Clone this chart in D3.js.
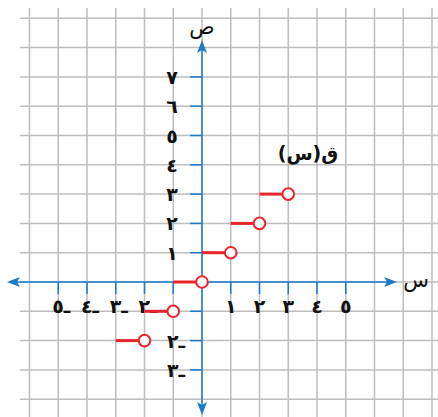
<!DOCTYPE html>
<html>
<head>
<meta charset="utf-8">
<script src="https://cdn.jsdelivr.net/npm/d3@7/dist/d3.min.js"></script>
<style>
	body { margin: 0; background: #fff; }
	text { font-family: "DejaVu Sans", sans-serif; fill: #111; }
</style>
</head>
<body>
<div id="chart"></div>
<script>
// grid range in units
var gridX = d3.range(-6, 9);
var gridY = d3.range(-4, 10);

// tick positions and labels (Arabic-Indic digits)
var xTicks = [-5, -4, -3, -2, -1, 1, 2, 3, 4, 5];
var xLabelVals = [-5, -4, -3, -2, 1, 2, 3, 4, 5];
var yTicks = [-3, -2, -1, 1, 2, 3, 4, 5, 6, 7];
var yLabelVals = [-3, -2, 1, 2, 3, 4, 5, 6, 7];

// step function segments: [start, end) at value, open circle at end
var stepStart = [-3, -2, -1, 0, 1, 2];
var stepEnd = [-2, -1, 0, 1, 2, 3];
var stepValue = [-2, -1, 0, 1, 2, 3];

var digits = "٠١٢٣٤٥٦٧٨٩";
function arab(n) {
	var s = String(Math.abs(n)).split("").map(function (c) { return digits[+c]; }).join("");
	// tatweel first: the run is shown right-to-left, so the dash lands on the right
	return n < 0 ? "ـ" + s : s;
}

var width = 438, height = 417;
var blue = "#1b7bc9", red = "#e8252b", grey = "#bdbdbd";

var x = d3.scaleLinear().domain([-6, 8]).range([29.5, 432]);
var y = d3.scaleLinear().domain([-4, 9]).range([399.2, 18.3]);

var svg = d3.select("#chart").append("svg")
	.attr("width", width)
	.attr("height", height);

// grid
svg.append("g").selectAll("line")
	.data(gridX)
	.enter().append("line")
	.attr("x1", function (d) { return x(d); })
	.attr("x2", function (d) { return x(d); })
	.attr("y1", 8)
	.attr("y2", height)
	.attr("stroke", grey)
	.attr("stroke-width", 1.5);
svg.append("g").selectAll("line")
	.data(gridY)
	.enter().append("line")
	.attr("x1", 20)
	.attr("x2", width)
	.attr("y1", function (d) { return y(d); })
	.attr("y2", function (d) { return y(d); })
	.attr("stroke", grey)
	.attr("stroke-width", 1.5);

// axes
var axes = svg.append("g");
axes.append("line")
	.attr("x1", 14).attr("x2", 390)
	.attr("y1", y(0)).attr("y2", y(0))
	.attr("stroke", blue).attr("stroke-width", 1.5);
axes.append("line")
	.attr("x1", x(0)).attr("x2", x(0))
	.attr("y1", 48).attr("y2", 408)
	.attr("stroke", blue).attr("stroke-width", 1.5);

function arrow(tx, ty, dir) {
	// dir: "l","r","u","d"
	var p;
	if (dir === "r") p = [[tx, ty], [tx - 13, ty - 5], [tx - 10, ty], [tx - 13, ty + 5]];
	if (dir === "l") p = [[tx, ty], [tx + 13, ty - 5], [tx + 10, ty], [tx + 13, ty + 5]];
	if (dir === "u") p = [[tx, ty], [tx - 5, ty + 13], [tx, ty + 10], [tx + 5, ty + 13]];
	if (dir === "d") p = [[tx, ty], [tx - 5, ty - 13], [tx, ty - 10], [tx + 5, ty - 13]];
	axes.append("path")
		.attr("d", d3.line()(p) + "Z")
		.attr("fill", blue);
}
arrow(397, y(0), "r");
arrow(7, y(0), "l");
arrow(x(0), 40, "u");
arrow(x(0), 415, "d");

// ticks
axes.selectAll(".xt")
	.data(xTicks)
	.enter().append("line")
	.attr("x1", function (d) { return x(d); })
	.attr("x2", function (d) { return x(d); })
	.attr("y1", y(0))
	.attr("y2", y(0) + 12)
	.attr("stroke", blue).attr("stroke-width", 1.5);
axes.selectAll(".yt")
	.data(yTicks)
	.enter().append("line")
	.attr("x1", x(0) - 12)
	.attr("x2", x(0))
	.attr("y1", function (d) { return y(d); })
	.attr("y2", function (d) { return y(d); })
	.attr("stroke", blue).attr("stroke-width", 1.5);

// tick labels
svg.append("g").selectAll("text")
	.data(xLabelVals)
	.enter().append("text")
	.attr("x", function (d) { return d < 0 ? x(d) + 3 : x(d); })
	.attr("y", y(0) + 31)
	.attr("text-anchor", "middle")
	.attr("font-size", 19)
	.attr("font-weight", "bold")
	.text(arab);
svg.append("g").selectAll("text")
	.data(yLabelVals)
	.enter().append("text")
	.attr("x", function (d) { return d < 0 ? x(0) - 26 : x(0) - 30; })
	.attr("y", function (d) { return y(d) + 7; })
	.attr("text-anchor", "middle")
	.attr("font-size", 19)
	.attr("font-weight", "bold")
	.text(arab);

// axis names
svg.append("text")
	.attr("x", 416).attr("y", y(0) + 5)
	.attr("text-anchor", "middle")
	.attr("font-size", 21)
	.text("س");
svg.append("text")
	.attr("x", x(0)).attr("y", 34)
	.attr("text-anchor", "middle")
	.attr("font-size", 21)
	.text("ص");

// function label
svg.append("text")
	.attr("x", 308).attr("y", 160)
	.attr("text-anchor", "middle")
	.attr("font-size", 19)
	.attr("font-weight", "bold")
	.text("ق(س)");

// step segments
var steps = svg.append("g");
steps.selectAll("line")
	.data(stepStart)
	.enter().append("line")
	.attr("x1", function (d) { return x(d); })
	.attr("x2", function (d, i) { return x(stepEnd[i]); })
	.attr("y1", function (d, i) { return y(stepValue[i]); })
	.attr("y2", function (d, i) { return y(stepValue[i]); })
	.attr("stroke", red)
	.attr("stroke-width", 3);
steps.selectAll("circle")
	.data(stepEnd)
	.enter().append("circle")
	.attr("cx", function (d) { return x(d); })
	.attr("cy", function (d, i) { return y(stepValue[i]); })
	.attr("r", 5.8)
	.attr("fill", "#fff")
	.attr("stroke", red)
	.attr("stroke-width", 2);
</script>
</body>
</html>
